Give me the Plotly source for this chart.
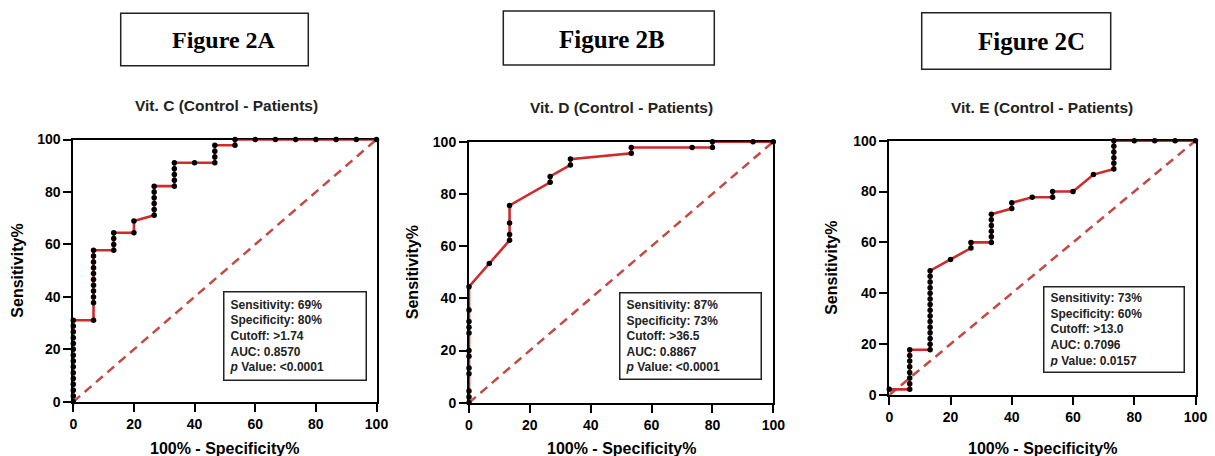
import plotly.graph_objects as go

W, H = 1215, 456

# ---------------- data (100% - Specificity%, Sensitivity%) ----------------
a_fpr = [0, 0, 0, 0, 0, 0, 0, 0, 0, 0, 0, 0, 0, 0, 0,
         6.67, 6.67, 6.67, 6.67, 6.67, 6.67, 6.67, 6.67, 6.67, 6.67, 6.67,
         13.33, 13.33, 13.33, 13.33,
         20, 20,
         26.67, 26.67, 26.67, 26.67, 26.67, 26.67,
         33.33, 33.33, 33.33, 33.33, 33.33,
         40,
         46.67, 46.67, 46.67, 46.67,
         53.33, 53.33,
         60, 66.67, 73.33, 80, 86.67, 93.33, 100]
a_sens = [0, 2.22, 4.44, 6.67, 8.89, 11.11, 13.33, 15.56, 17.78, 20, 22.22, 24.44, 26.67, 28.89, 31.11,
          31.11, 37.78, 40, 42.22, 44.44, 46.67, 48.89, 51.11, 53.33, 55.56, 57.78,
          57.78, 60, 62.22, 64.44,
          64.44, 68.89,
          71.11, 73.33, 75.56, 77.78, 80, 82.22,
          82.22, 84.44, 86.67, 88.89, 91.11,
          91.11,
          91.11, 93.33, 95.56, 97.78,
          97.78, 100,
          100, 100, 100, 100, 100, 100, 100]

b_fpr = [0, 0, 0, 0, 0, 0, 0, 0, 0, 0, 0, 0,
         6.67,
         13.33, 13.33, 13.33, 13.33,
         26.67, 26.67,
         33.33, 33.33,
         53.33, 53.33,
         73.33,
         80, 80,
         93.33, 100]
b_sens = [0, 2.22, 4.44, 11.11, 13.33, 17.78, 20, 26.67, 28.89, 31.11, 35.56, 44.44,
          53.33,
          62.22, 64.44, 68.89, 75.56,
          84.44, 86.67,
          91.11, 93.33,
          95.56, 97.78,
          97.78,
          97.78, 100,
          100, 100]

c_fpr = [0,
         6.67, 6.67, 6.67, 6.67, 6.67, 6.67, 6.67, 6.67,
         13.33, 13.33, 13.33, 13.33, 13.33, 13.33, 13.33, 13.33, 13.33, 13.33, 13.33, 13.33, 13.33, 13.33, 13.33,
         20,
         26.67, 26.67,
         33.33, 33.33, 33.33, 33.33, 33.33, 33.33,
         40, 40,
         46.67,
         53.33, 53.33,
         60,
         66.67,
         73.33, 73.33, 73.33, 73.33, 73.33, 73.33,
         80, 86.67, 93.33, 100]
c_sens = [2.22,
          2.22, 4.44, 6.67, 8.89, 11.11, 13.33, 15.56, 17.78,
          17.78, 20, 22.22, 24.44, 26.67, 28.89, 31.11, 33.33, 35.56, 37.78, 40, 42.22, 44.44, 46.67, 48.89,
          53.33,
          57.78, 60,
          60, 62.22, 64.44, 66.67, 68.89, 71.11,
          73.33, 75.56,
          77.78,
          77.78, 80,
          80,
          86.67,
          88.89, 91.11, 93.33, 95.56, 97.78, 100,
          100, 100, 100, 100]

panel_labels = ["Figure 2A", "Figure 2B", "Figure 2C"]
panel_titles = ["Vit. C (Control - Patients)", "Vit. D (Control - Patients)", "Vit. E (Control - Patients)"]
stat_sens = ["69%", "87%", "73%"]
stat_spec = ["80%", "73%", "60%"]
stat_cutoff = [">1.74", ">36.5", ">13.0"]
stat_auc = ["0.8570", "0.8867", "0.7096"]
stat_p = ["<0.0001", "<0.0001", "0.0157"]
tick_vals = [0, 20, 40, 60, 80, 100]
ref_line = [0, 100]

fprs = [a_fpr, b_fpr, c_fpr]
senss = [a_sens, b_sens, c_sens]

# ---------------- layout geometry (pixels) ----------------
plot_px = [  # x0, x1, ytop, ybottom
    (73.3, 376.5, 139.5, 401.8),
    (469.0, 773.3, 141.7, 402.7),
    (889.3, 1195.5, 140.7, 395.0),
]
label_box_px = [  # x0, x1, y0, y1, text cx, text cy, font size
    (120.7, 308.3, 13.3, 65.7, 224.3, 39.5, 24),
    (503.3, 714.3, 11.0, 65.0, 612.0, 39.5, 25),
    (921.7, 1110.7, 12.7, 69.3, 1031.3, 42.0, 25),
]
subtitle_px = [(226.5, 105.7), (621.7, 108.0), (1041.7, 108.0)]
stat_box_px = [(295.3, 335.5, 142.7, 89), (690.8, 336.3, 141.7, 87.3), (1113.5, 329.7, 141, 86)]
ytitle_x = [18, 412, 832]

FONT = "Liberation Sans, Arial, sans-serif"
RED = "#d02a2a"
DIAG = "#c44a45"

def px(x):
    return x / W

def py(y):
    return 1 - y / H

fig = go.Figure()
annotations = []
shapes = []
layout = {}

for i in range(3):
    sfx = "" if i == 0 else str(i + 1)
    xa, ya = "x" + sfx, "y" + sfx
    fig.add_trace(go.Scatter(x=ref_line, y=ref_line, mode="lines", xaxis=xa, yaxis=ya,
                             line=dict(color=DIAG, width=2.5, dash="9px,6px"),
                             showlegend=False, hoverinfo="skip", cliponaxis=False))
    fig.add_trace(go.Scatter(x=fprs[i], y=senss[i], mode="lines+markers", xaxis=xa, yaxis=ya,
                             line=dict(color=RED, width=2.6),
                             marker=dict(color="black", size=5.5),
                             showlegend=False, cliponaxis=False))
    x0, x1, yt, yb = plot_px[i]
    ax_common = dict(range=[0, 100], tickvals=tick_vals, showline=True, linewidth=2,
                     linecolor="black", mirror=True, ticks="outside", ticklen=8, tickwidth=2,
                     tickcolor="black", showgrid=False, zeroline=False, layer="below traces",
                     automargin=False,
                     tickfont=dict(family=FONT, size=14, color="black", weight="bold"),
                     fixedrange=True)
    layout["xaxis" + sfx] = dict(ax_common, domain=[px(x0), px(x1)], anchor=ya)
    layout["yaxis" + sfx] = dict(ax_common, domain=[py(yb), py(yt)], anchor=xa)

    # figure label boxes
    bx0, bx1, by0, by1, tcx, tcy, fs = label_box_px[i]
    shapes.append(dict(type="rect", xref="paper", yref="paper", x0=px(bx0), x1=px(bx1),
                       y0=py(by1), y1=py(by0), line=dict(color="#222222", width=1.5)))
    annotations.append(dict(text=panel_labels[i], xref="paper", yref="paper", x=px(tcx), y=py(tcy),
                            xanchor="center", yanchor="middle", showarrow=False,
                            font=dict(family="Liberation Serif, Times New Roman, serif", size=fs,
                                      color="black", weight="bold")))
    # subtitle
    sx, sy = subtitle_px[i]
    annotations.append(dict(text=panel_titles[i], xref="paper", yref="paper", x=px(sx), y=py(sy),
                            xanchor="center", yanchor="middle", showarrow=False,
                            font=dict(family=FONT, size=15.5, color="#222222", weight="bold")))
    # axis titles
    annotations.append(dict(text="100% - Specificity%", xref="paper", yref="paper",
                            x=px((x0 + x1) / 2), y=py(448), xanchor="center", yanchor="middle",
                            showarrow=False, font=dict(family=FONT, size=16, color="black", weight="bold")))
    annotations.append(dict(text="Sensitivity%", xref="paper", yref="paper", textangle=-90,
                            x=px(ytitle_x[i]), y=py((yt + yb) / 2), xanchor="center", yanchor="middle",
                            showarrow=False, font=dict(family=FONT, size=16, color="black", weight="bold")))
    # stats box
    cx, cy, bw, bh = stat_box_px[i]
    txt = "<br>".join([
        "Sensitivity: " + stat_sens[i],
        "Specificity: " + stat_spec[i],
        "Cutoff: " + stat_cutoff[i],
        "AUC: " + stat_auc[i],
        "<i>p</i> Value: " + stat_p[i],
    ])
    pad = 5
    annotations.append(dict(text=txt, xref="paper", yref="paper", x=px(cx), y=py(cy),
                            xanchor="center", yanchor="middle", showarrow=False, align="left",
                            width=bw - 2 * pad - 2, height=bh - 2 * pad - 2, borderpad=pad,
                            bordercolor="#222222", borderwidth=1.5, bgcolor="white",
                            font=dict(family=FONT, size=12, color="#222222", weight="bold")))

fig.update_layout(width=W, height=H, margin=dict(l=0, r=0, t=0, b=0, autoexpand=False),
                  paper_bgcolor="white", plot_bgcolor="white",
                  annotations=annotations, shapes=shapes, **layout)

fig.write_html("out.html", config={"displayModeBar": False},
               post_script="document.body.style.margin='0';document.body.style.overflow='hidden';")
